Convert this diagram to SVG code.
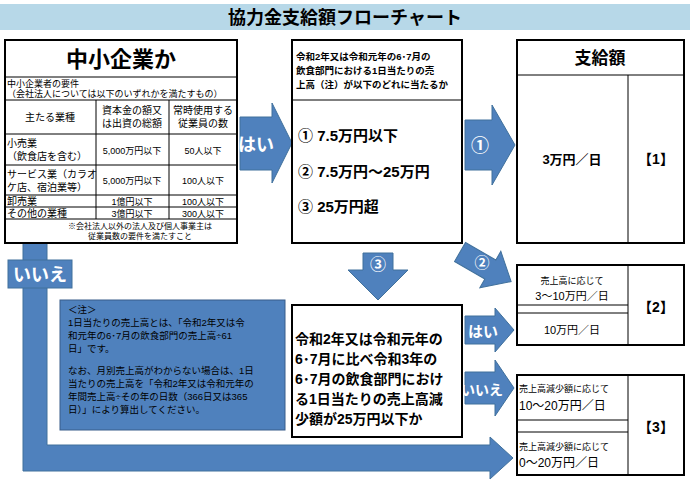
<svg xmlns="http://www.w3.org/2000/svg" width="690" height="493" viewBox="0 0 690 493">
<style>
text{font-family:"Liberation Sans","Noto Sans CJK JP",sans-serif;fill:#000}
.box{fill:#fff;stroke:#000;stroke-width:2}
.thin{fill:none;stroke:#000;stroke-width:1}
.arr{fill:#4f81bd;stroke:#41719c;stroke-width:1}
.w{fill:#fff;font-weight:bold}
.b{font-weight:bold}
</style>
<rect x="0" y="4" width="690" height="26" fill="#b7d8e8"/>
<text x="345" y="24" font-size="18" font-weight="bold" text-anchor="middle">協力金支給額フローチャート</text>

<g id="connectors">
<polygon class="arr" points="23,240 47,240 47,445 490,445 490,437 513,458 490,479 490,471 23,471"/>
<rect class="arr" x="8" y="260" width="64" height="28"/>
<text class="w" x="40" y="281" font-size="18" text-anchor="middle">いいえ</text>
<polygon class="arr" points="240,117 272,117 272,103 292,143 272,183 272,170 240,170"/>
<text class="w" x="256" y="151" font-size="18" text-anchor="middle">はい</text>
<polygon class="arr" points="465,120 492,120 492,105 515,145 492,185 492,170 465,170"/>
<text class="w" x="480" y="152" font-size="18" text-anchor="middle">①</text>
<g transform="translate(486,267) rotate(30)">
<polygon class="arr" points="-30,-11 5,-11 5,-21 29,0 5,21 5,11 -30,11"/>
</g>
<text class="w" x="482" y="268" font-size="15" text-anchor="middle">②</text>
<polygon class="arr" points="363,253 393,253 393,270 408,270 378,300 348,270 363,270"/>
<text class="w" x="378" y="270" font-size="16" text-anchor="middle">③</text>
<polygon class="arr" points="465,316 495,316 495,308 514,330 495,352 495,344 465,344"/>
<text class="w" x="483" y="337" font-size="15" text-anchor="middle">はい</text>
<polygon class="arr" points="465,372 495,372 495,360 514,388 495,416 495,404 465,404"/>
<text class="w" x="482" y="395" font-size="14" text-anchor="middle">いいえ</text>
</g>

<g id="sme">
<rect class="box" x="5" y="40" width="232" height="203"/>
<line class="thin" x1="5" y1="77" x2="237" y2="77"/>
<line class="thin" x1="5" y1="100" x2="237" y2="100"/>
<line class="thin" x1="5" y1="134" x2="237" y2="134"/>
<line class="thin" x1="5" y1="165" x2="237" y2="165"/>
<line class="thin" x1="5" y1="195" x2="237" y2="195"/>
<line class="thin" x1="5" y1="207" x2="237" y2="207"/>
<line class="thin" x1="5" y1="219" x2="237" y2="219"/>
<line class="thin" x1="96" y1="100" x2="96" y2="219"/>
<line class="thin" x1="169" y1="100" x2="169" y2="219"/>
<text x="121" y="67" font-size="22" font-weight="bold" text-anchor="middle">中小企業か</text>
<text x="7" y="87" font-size="9">中小企業者の要件</text>
<text x="7" y="97" font-size="9">（会社法人については以下のいずれかを満たすもの）</text>
<text x="50" y="121" font-size="10" text-anchor="middle">主たる業種</text>
<text x="132" y="114" font-size="10" text-anchor="middle">資本金の額又</text>
<text x="132" y="127" font-size="10" text-anchor="middle">は出資の総額</text>
<text x="203" y="114" font-size="10" text-anchor="middle">常時使用する</text>
<text x="203" y="127" font-size="10" text-anchor="middle">従業員の数</text>
<text x="7" y="147" font-size="10">小売業</text>
<text x="7" y="160" font-size="10">（飲食店を含む）</text>
<text x="132" y="154" font-size="9" text-anchor="middle">5,000万円以下</text>
<text x="203" y="154" font-size="9" text-anchor="middle">50人以下</text>
<text x="7" y="178" font-size="10">サービス業（カラオ</text>
<text x="7" y="191" font-size="10">ケ店、宿泊業等）</text>
<text x="132" y="184" font-size="9" text-anchor="middle">5,000万円以下</text>
<text x="203" y="184" font-size="9" text-anchor="middle">100人以下</text>
<text x="7" y="205" font-size="10">卸売業</text>
<text x="132" y="205" font-size="9" text-anchor="middle">1億円以下</text>
<text x="203" y="205" font-size="9" text-anchor="middle">100人以下</text>
<text x="7" y="217" font-size="10">その他の業種</text>
<text x="132" y="217" font-size="9" text-anchor="middle">3億円以下</text>
<text x="203" y="217" font-size="9" text-anchor="middle">300人以下</text>
<text x="140" y="229" font-size="8" text-anchor="middle">※会社法人以外の法人及び個人事業主は</text>
<text x="140" y="239" font-size="8" text-anchor="middle">従業員数の要件を満たすこと</text>
</g>

<g id="sales">
<rect class="box" x="292" y="40" width="170" height="203"/>
<line class="thin" x1="292" y1="100" x2="462" y2="100" stroke-width="2"/>
<text x="296" y="60" font-size="9.5" class="b">令和2年又は令和元年の6･7月の</text>
<text x="296" y="74" font-size="9.5" class="b">飲食部門における1日当たりの売</text>
<text x="296" y="88" font-size="9.5" class="b">上高（注）が以下のどれに当たるか</text>
<text x="298" y="141" font-size="15" class="b">① 7.5万円以下</text>
<text x="298" y="177" font-size="15" class="b">② 7.5万円～25万円</text>
<text x="298" y="212" font-size="15" class="b">③ 25万円超</text>
</g>

<g id="amount1">
<rect class="box" x="517" y="40" width="167" height="203"/>
<line class="thin" x1="517" y1="75" x2="684" y2="75" stroke-width="2"/>
<line class="thin" x1="628" y1="75" x2="628" y2="243"/>
<text x="600" y="64" font-size="17" class="b" text-anchor="middle">支給額</text>
<text x="572" y="164" font-size="13" class="b" text-anchor="middle">3万円／日</text>
<text x="656" y="164" font-size="14" class="b" text-anchor="middle">【1】</text>
</g>

<g id="note">
<rect x="60" y="300" width="225" height="130" fill="#4f81bd" stroke="#385d8a"/>
<text x="68" y="313" font-size="9.5" fill="#fff">＜注＞</text>
<text x="68" y="326" font-size="9.5" fill="#fff">1日当たりの売上高とは、「令和2年又は令</text>
<text x="68" y="339" font-size="9.5" fill="#fff">和元年の6･7月の飲食部門の売上高÷61</text>
<text x="68" y="352" font-size="9.5" fill="#fff">日」です。</text>
<text x="68" y="374" font-size="9.5" fill="#fff">なお、月別売上高がわからない場合は、1日</text>
<text x="68" y="387" font-size="9.5" fill="#fff">当たりの売上高を「令和2年又は令和元年の</text>
<text x="68" y="400" font-size="9.5" fill="#fff">年間売上高÷その年の日数（366日又は365</text>
<text x="68" y="413" font-size="9.5" fill="#fff">日）」により算出してください。</text>
</g>

<g id="decrease">
<rect class="box" x="292" y="305" width="170" height="132"/>
<text x="295" y="344" font-size="14" class="b">令和2年又は令和元年の</text>
<text x="295" y="364" font-size="14" class="b">6･7月に比べ令和3年の</text>
<text x="295" y="384" font-size="14" class="b">6･7月の飲食部門におけ</text>
<text x="295" y="404" font-size="14" class="b">る1日当たりの売上高減</text>
<text x="295" y="424" font-size="14" class="b">少額が25万円以下か</text>
</g>

<g id="amount2">
<rect class="box" x="517" y="265" width="167" height="80"/>
<line class="thin" x1="628" y1="265" x2="628" y2="345"/>
<line class="thin" x1="517" y1="305" x2="628" y2="305"/>
<line class="thin" x1="517" y1="313" x2="628" y2="313"/>
<text x="572" y="284" font-size="9" text-anchor="middle">売上高に応じて</text>
<text x="572" y="300" font-size="11" text-anchor="middle">3～10万円／日</text>
<text x="572" y="334" font-size="11" text-anchor="middle">10万円／日</text>
<text x="656" y="312" font-size="14" class="b" text-anchor="middle">【2】</text>
</g>

<g id="amount3">
<rect class="box" x="517" y="375" width="167" height="100"/>
<line class="thin" x1="628" y1="375" x2="628" y2="475"/>
<line class="thin" x1="517" y1="420" x2="628" y2="420"/>
<line class="thin" x1="517" y1="432" x2="628" y2="432"/>
<text x="519" y="392" font-size="9">売上高減少額に応じて</text>
<text x="519" y="410" font-size="12">10～20万円／日</text>
<text x="519" y="450" font-size="9">売上高減少額に応じて</text>
<text x="519" y="467" font-size="12">0～20万円／日</text>
<text x="656" y="432" font-size="14" class="b" text-anchor="middle">【3】</text>
</g>
</svg>
